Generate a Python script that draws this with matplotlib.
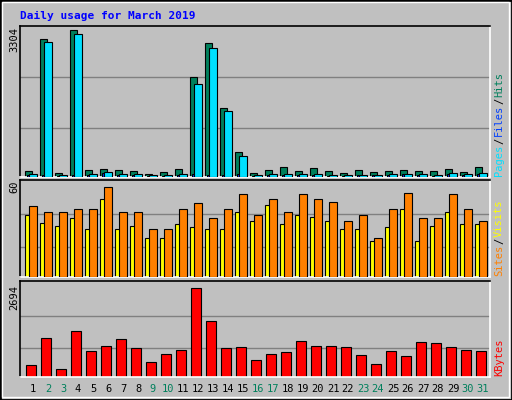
import matplotlib
matplotlib.use("Agg")
import matplotlib.pyplot as plt
from matplotlib.patches import Rectangle

days = list(range(1, 32))
weekend = [2, 3, 9, 10, 16, 17, 23, 24, 30, 31]
hits = [127, 3102, 97, 3304, 164, 187, 164, 142, 67, 120, 187, 2250, 3012, 1555, 568,
        97, 164, 232, 142, 209, 142, 97, 164, 120, 142, 164, 142, 142, 187, 120, 232]
files = [40, 45, 30, 50, 45, 90, 40, 45, 25, 30, 50, 60, 55, 50, 60,
         30, 45, 45, 50, 45, 30, 30, 45, 40, 45, 60, 45, 30, 75, 45, 75]
pages = [75, 3035, 52, 3214, 75, 112, 60, 75, 52, 52, 75, 2093, 2900, 1488, 478,
         52, 75, 75, 75, 75, 52, 52, 52, 52, 75, 75, 75, 52, 97, 75, 97]
sites = [41, 36, 34, 39, 32, 52, 32, 34, 26, 26, 35, 33, 32, 32, 43.5,
         37, 48, 35, 41, 40, 37, 32, 32, 24, 33, 45.5, 24, 34, 43.5, 35, 35]
visits = [47, 43.5, 43, 45, 45, 60, 43, 43, 32, 32, 45, 49, 39, 45.5, 55,
          41, 52, 43, 55, 52, 50, 37.5, 41, 26, 45, 56, 39, 39.5, 55, 45, 37]
kbytes = [372, 1195, 255, 1400, 784, 931, 1166, 872, 460, 696, 813, 2694, 1695, 872, 901,
          519, 696, 755, 1078, 931, 931, 901, 666, 402, 784, 637, 1049, 1019, 901, 813, 784]

W, H = 512, 400
BG = "#C0C0C0"
fig = plt.figure(figsize=(W / 100, H / 100), dpi=100, facecolor=BG)

def fx(px): return px / W
def fy(py): return 1 - py / H

fig.patches.append(Rectangle((0, 0), 1, 1, transform=fig.transFigure, fill=False,
                             edgecolor="black", lw=2))
fig.patches.append(Rectangle((fx(2), fy(397)), fx(507), 395 / H, transform=fig.transFigure,
                             fill=False, edgecolor="white", lw=1))

def make_ax(top, bottom):
    ax = fig.add_axes([fx(20), fy(bottom), fx(470), (bottom - top) / H])
    ax.set_facecolor(BG)
    ax.set_xlim(-0.333, 31)
    ax.set_xticks([]); ax.set_yticks([])
    for s in ["left", "top"]:
        ax.spines[s].set_color("black")
    for s in ["right", "bottom"]:
        ax.spines[s].set_color("white")
    for s in ax.spines.values():
        s.set_linewidth(1.2)
    return ax

x0 = [d - 1 for d in days]
kw = dict(align="edge", edgecolor="black", linewidth=0.8)

ax1 = make_ax(26, 177)
ax1.set_ylim(0, 3304 * 455 / 442)
for f in (0.335, 0.68):
    ax1.axhline(f * 3304, color="#808080", lw=1, zorder=0)
ax1.bar(x0, hits, width=0.5, color="#00805C", zorder=2, **kw)
ax1.bar([x + 0.13 for x in x0], files, width=0.14, color="#0040FF", zorder=3, **kw)
ax1.bar([x + 0.27 for x in x0], pages, width=0.5, color="#00E0FF", zorder=4, **kw)

ax2 = make_ax(180, 277)
ax2.set_ylim(0, 60 * 297 / 276)
for v in (20, 42):
    ax2.axhline(v, color="#808080", lw=1, zorder=0)
ax2.bar(x0, sites, width=0.33, color="#FFFF00", zorder=2, **kw)
ax2.bar([x + 0.27 for x in x0], visits, width=0.5, color="#FF8000", zorder=3, **kw)

ax3 = make_ax(281, 377)
ax3.set_ylim(0, 2694 * 297 / 275)
for v in (89 * 9.8, 188 * 9.8):
    ax3.axhline(v, color="#808080", lw=1, zorder=0)
ax3.bar([x + 0.07 for x in x0], kbytes, width=0.68, color="#FF0000", zorder=2, **kw)

mono = "DejaVu Sans Mono"
fig.text(fx(20), fy(16), "Daily usage for March 2019", color="#0000FF", fontsize=8,
         fontweight="bold", family=mono, va="center", ha="left")
for txt, yy in (("3304", 40), ("60", 187), ("2694", 297)):
    fig.text(fx(14), fy(yy), txt, rotation=90, fontsize=7.5, family=mono, ha="center", va="center")

for i, d in enumerate(days):
    px = 25 + 15 * i + 8
    fig.text(fx(px), fy(389), str(d), fontsize=7.5, family=mono, ha="center", va="center",
             color="#00805C" if d in weekend else "black")

renderer = fig.canvas.get_renderer()

def vlabel(parts, ybottom):
    y = ybottom
    for txt, col in parts:
        t = fig.text(fx(499), fy(y), txt, rotation=90, fontsize=7.5, family=mono,
                     color=col, ha="center", va="bottom")
        bb = t.get_window_extent(renderer)
        y -= bb.height + 1

vlabel([("Pages", "#00E0FF"), ("/", "black"), ("Files", "#0040FF"), ("/", "black"),
        ("Hits", "#00805C")], 176)
vlabel([("Sites", "#FF8000"), ("/", "black"), ("Visits", "#FFFF00")], 276)
vlabel([("KBytes", "#FF0000")], 376)

fig.savefig("out.png", dpi=100, facecolor=BG)
